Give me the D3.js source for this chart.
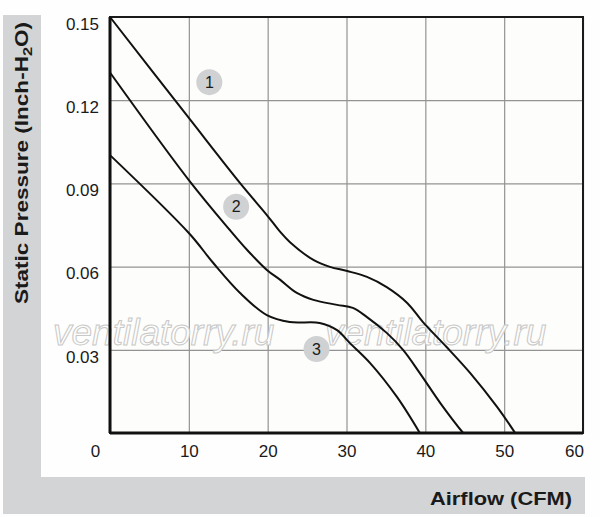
<!DOCTYPE html>
<html>
<head>
<meta charset="utf-8">
<script src="https://cdn.jsdelivr.net/npm/d3@7"></script>
<style>
  body { margin: 0; background: #fefefe; }
  text { font-family: "Liberation Sans", Arial, sans-serif; fill: #1a1a1a; }
</style>
</head>
<body>
<div id="chart"></div>
<script>
// Chart data
var xTicks = [0, 10, 20, 30, 40, 50, 60];
var yTicks = [0, 0.03, 0.06, 0.09, 0.12, 0.15];
var yTickLabels = ["", "0.03", "0.06", "0.09", "0.12", "0.15"];

var curve1 = [[0, 0.150], [10, 0.1136], [16.5, 0.0901], [19.9, 0.0786], [21.6, 0.0725],
  [22.8, 0.0689], [25.8, 0.0624], [27.9, 0.0599], [30.1, 0.0584], [32.6, 0.0563],
  [35.1, 0.0526], [37.7, 0.0469], [39.7, 0.0400], [42.7, 0.0310], [45.7, 0.0216],
  [49.1, 0.0094], [51.4, 0]];
var curve2 = [[0, 0.130], [10, 0.0912], [15.2, 0.0732], [17.4, 0.0660], [19.9, 0.0588],
  [21.6, 0.0552], [23.7, 0.0505], [25.8, 0.0480], [28.8, 0.0462], [30.8, 0.0451],
  [32.6, 0.0418], [35.1, 0.0361], [37.2, 0.0299], [39.3, 0.0216], [41.9, 0.0108],
  [44.8, 0]];
var curve3 = [[0, 0.1002], [10, 0.0721], [13.1, 0.0613], [16.5, 0.0505], [19.9, 0.0425],
  [22.8, 0.0400], [26.6, 0.0397], [28.8, 0.0371], [30.4, 0.0325], [33.0, 0.0252],
  [36.4, 0.0130], [39.3, 0]];

var curveNames = ["1", "2", "3"];
var badgePos = [[12.6, 0.1265], [16.0, 0.0816], [26.2, 0.0303]];

var svgWidth = 600;
var svgHeight = 517;
var margin = { top: 17, right: 17, bottom: 84, left: 110 };
var width = svgWidth - margin.left - margin.right;
var height = svgHeight - margin.top - margin.bottom;

var svg = d3.select("#chart")
  .append("svg")
  .attr("width", svgWidth)
  .attr("height", svgHeight);

// grey title bands
svg.append("rect").attr("x", 3).attr("y", 15).attr("width", 38).attr("height", 499).attr("fill", "#d3d4d6");
svg.append("rect").attr("x", 3).attr("y", 477).attr("width", 582).attr("height", 37).attr("fill", "#d3d4d6");

var chartGroup = svg.append("g")
  .attr("transform", `translate(${margin.left}, ${margin.top})`);

var x = d3.scaleLinear().domain([0, 60]).range([0, width]);
var y = d3.scaleLinear().domain([0, 0.15]).range([height, 0]);

chartGroup.append("rect")
  .attr("width", width).attr("height", height)
  .attr("fill", "#fdfdfb");

// grid
chartGroup.append("g")
  .attr("class", "grid")
  .attr("transform", `translate(0, ${height})`)
  .call(d3.axisBottom(x).tickValues(xTicks).tickSize(-height).tickFormat(""))
  .call(g => g.select(".domain").remove());
chartGroup.append("g")
  .attr("class", "grid")
  .call(d3.axisLeft(y).tickValues(yTicks).tickSize(-width).tickFormat(""))
  .call(g => g.select(".domain").remove());
chartGroup.selectAll(".grid line").attr("stroke", "#939393").attr("stroke-width", 1.2);

// watermark (under the labels and curves)
var marks = [[-57, 328], [215, 328]];
chartGroup.selectAll(".wm")
  .data(marks)
  .enter()
  .append("text")
  .attr("class", "wm")
  .attr("x", d => d[0])
  .attr("y", d => d[1])
  .attr("font-size", "37px")
  .attr("font-style", "italic")
  .style("fill", "#fdfdfb")
  .attr("stroke", "#c8c8c8")
  .attr("stroke-width", 1)
  .text("ventilatorry.ru");

// tick labels
var xAxis = chartGroup.append("g")
  .attr("transform", `translate(0, ${height})`)
  .call(d3.axisBottom(x).tickValues(xTicks).tickSize(0).tickPadding(12));
xAxis.select(".domain").remove();
xAxis.selectAll("text")
  .attr("font-size", "17px")
  .attr("fill", "#1a1a1a")
  .attr("x", d => d === 0 ? -15 : (d === 60 ? -9 : 0));

var yAxis = chartGroup.append("g")
  .call(d3.axisLeft(y).tickValues(yTicks).tickSize(0).tickPadding(11)
    .tickFormat((d, i) => yTickLabels[i]));
yAxis.select(".domain").remove();
yAxis.selectAll("text")
  .attr("font-size", "17px")
  .attr("fill", "#1a1a1a")
  .attr("dy", "0.72em");

// plot frame
chartGroup.append("rect")
  .attr("width", width).attr("height", height)
  .attr("fill", "none")
  .attr("stroke", "#1a1a1a")
  .attr("stroke-width", 2);
chartGroup.append("line")
  .attr("x1", 0).attr("x2", 0).attr("y1", 0).attr("y2", height)
  .attr("stroke", "#111").attr("stroke-width", 3);
chartGroup.append("line")
  .attr("x1", 0).attr("x2", width).attr("y1", height).attr("y2", height)
  .attr("stroke", "#111").attr("stroke-width", 3);

// curves
var line = d3.line()
  .x(d => x(d[0]))
  .y(d => y(d[1]))
  .curve(d3.curveCatmullRom.alpha(0.5));

chartGroup.selectAll(".curve")
  .data([curve1, curve2, curve3])
  .enter()
  .append("path")
  .attr("class", "curve")
  .attr("d", line)
  .attr("fill", "none")
  .attr("stroke", "#111")
  .attr("stroke-width", 2);

// numbered badges
var badges = chartGroup.selectAll(".badge")
  .data(badgePos)
  .enter()
  .append("g")
  .attr("class", "badge")
  .attr("transform", d => `translate(${x(d[0])}, ${y(d[1])})`);
badges.append("circle").attr("r", 13).attr("fill", "#d0d1d2");
badges.append("text")
  .attr("text-anchor", "middle")
  .attr("dy", "0.36em")
  .attr("font-size", "16px")
  .text((d, i) => curveNames[i]);

// axis titles
svg.append("text")
  .attr("x", 572)
  .attr("y", 505)
  .attr("text-anchor", "end")
  .attr("font-size", "18px")
  .attr("font-weight", "bold")
  .attr("textLength", 142)
  .attr("lengthAdjust", "spacingAndGlyphs")
  .text("Airflow (CFM)");

var yTitle = svg.append("text")
  .attr("transform", "translate(28, 304) rotate(-90)")
  .attr("font-size", "18px")
  .attr("font-weight", "bold")
  .attr("textLength", 282)
  .attr("lengthAdjust", "spacingAndGlyphs");
yTitle.append("tspan").text("Static Pressure (Inch-H");
yTitle.append("tspan").attr("dy", 4).attr("font-size", "13px").text("2");
yTitle.append("tspan").attr("dy", -4).text("O)");
</script>
</body>
</html>
